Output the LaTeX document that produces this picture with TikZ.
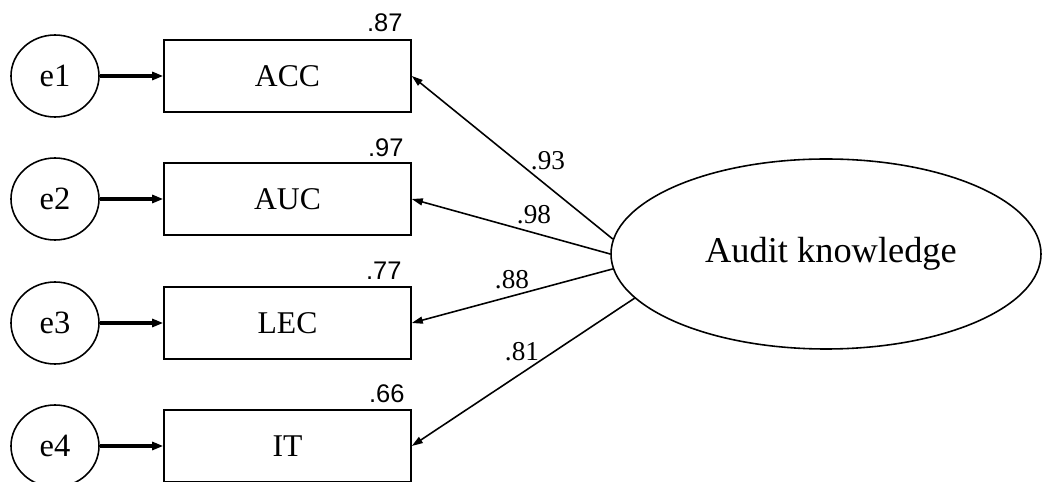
\documentclass[tikz,border=0pt]{standalone}
\usepackage{fontspec}
\setmainfont{Liberation Serif}
\newfontfamily\labfont{Liberation Sans}
\usetikzlibrary{arrows.meta,shapes.geometric}

\begin{document}
\begin{tikzpicture}[
        err/.style={draw, ellipse, line width=0.9pt, minimum width=1.76cm, minimum height=1.64cm, inner sep=0pt, font=\fontsize{18.5}{20}\selectfont},
        obs/.style={draw, rectangle, line width=0.9pt, minimum width=4.94cm, minimum height=1.44cm, inner sep=0pt, font=\fontsize{18}{20}\selectfont},
        lat/.style={draw, ellipse, line width=0.9pt, minimum width=8.6cm, minimum height=3.8cm, inner sep=0pt, font=\fontsize{20.7}{23}\selectfont},
        rsq/.style={anchor=base east, inner sep=0pt, font=\labfont\fontsize{14.5}{16}\selectfont},
        load/.style={inner sep=0pt, font=\fontsize{15.5}{17}\selectfont},
        errarr/.style={line width=2pt, -{Triangle[length=0.22cm, width=0.16cm]}},
        loadarr/.style={line width=0.9pt, -{Triangle[length=0.22cm, width=0.14cm]}}
    ]
        \useasboundingbox (0,0) rectangle (20.86,9.64);

        \node[err] (e1) at (1.1,8.12) {e1};
        \node[err] (e2) at (1.1,5.66) {e2};
        \node[err] (e3) at (1.1,3.18) {e3};
        \node[err] (e4) at (1.1,0.72) {e4};

        \node[obs] (acc) at (5.75,8.12) {ACC};
        \node[obs] (auc) at (5.75,5.66) {AUC};
        \node[obs] (lec) at (5.75,3.18) {LEC};
        \node[obs] (it) at (5.75,0.72) {IT};

        \node[rsq] (r1) at ([xshift=-0.18cm, yshift=0.16cm]acc.north east) {.87};
        \node[rsq] (r2) at ([xshift=-0.16cm, yshift=0.12cm]auc.north east) {.97};
        \node[rsq] (r3) at ([xshift=-0.2cm, yshift=0.14cm]lec.north east) {.77};
        \node[rsq] (r4) at ([xshift=-0.14cm, yshift=0.14cm]it.north east) {.66};

        \node[lat] (ak) at (16.52,4.56) {\hspace{0.2cm}Audit knowledge};

        \draw[errarr] (e1) -- (acc);
        \draw[errarr] (e2) -- (auc);
        \draw[errarr] (e3) -- (lec);
        \draw[errarr] (e4) -- (it);

        \draw[loadarr] (ak.176) -- (acc.east);
        \draw[loadarr] (ak.180) -- (auc.east);
        \draw[loadarr] (ak.184) -- (lec.east);
        \draw[loadarr] (ak.193) -- (it.east);

        \node[load] (l1) at (10.96,6.42) {.93};
        \node[load] (l2) at (10.68,5.34) {.98};
        \node[load] (l3) at (10.24,4.05) {.88};
        \node[load] (l4) at (10.44,2.6) {.81};
        
        \end{tikzpicture}
\end{document}
